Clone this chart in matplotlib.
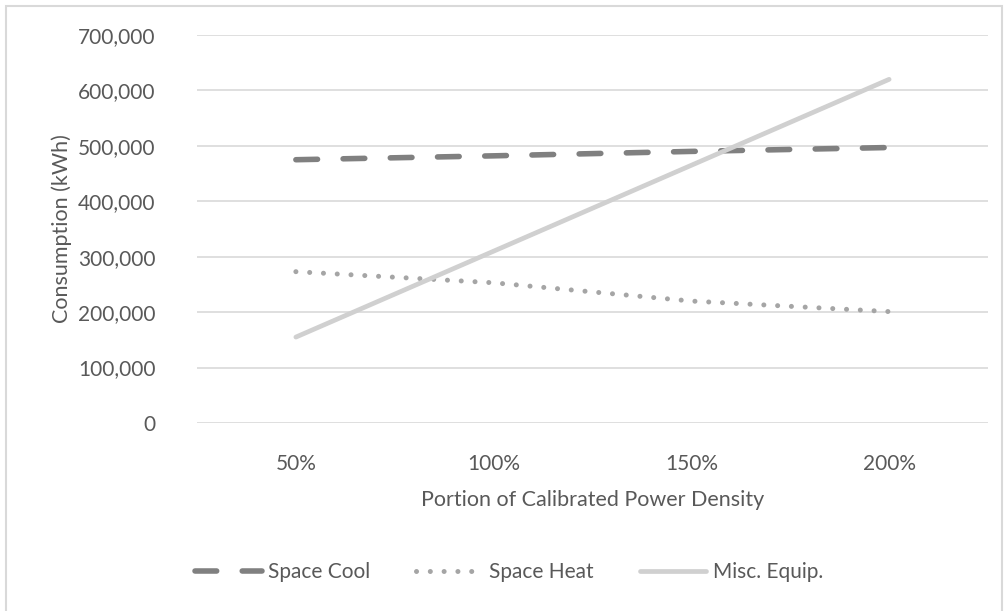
import matplotlib.pyplot as plt
from matplotlib.patches import Rectangle
from matplotlib.ticker import FuncFormatter

plt.rcParams['font.family'] = ['Lato', 'DejaVu Sans']

categories = ['50%', '100%', '150%', '200%']
space_cool = [475000, 482000, 490000, 497000]
space_heat = [273000, 253000, 220000, 201000]
misc_equip = [155000, 310000, 465000, 620000]

text_color = '#595959'

fig = plt.figure(figsize=(10.07, 6.11), dpi=100)
ax = fig.add_axes([197 / 1007, 188 / 611, 791 / 1007, 388 / 611])

x = range(len(categories))
ax.plot(x, space_cool, color='#808080', lw=4.0, linestyle=(0, (3.9, 4.6)),
        dash_capstyle='round', label='Space Cool')
ax.plot(x, space_heat, color='#a5a5a5', lw=3.6, linestyle=(0, (0.01, 2.75)),
        dash_capstyle='round', label='Space Heat')
ax.plot(x, misc_equip, color='#d0d0d0', lw=3.4, solid_capstyle='round',
        label='Misc. Equip.')

ax.set_xlim(-0.5, len(categories) - 0.5)
ax.set_ylim(0, 700000)
ax.set_yticks(range(0, 700001, 100000))
ax.yaxis.set_major_formatter(FuncFormatter(lambda v, p: f'{int(v):,}'))
ax.set_xticks(list(x))
ax.set_xticklabels(categories)
ax.grid(axis='y', color='#d9d9d9', lw=1.2)
ax.set_axisbelow(True)
for s in ax.spines.values():
    s.set_visible(False)
ax.tick_params(length=0, labelsize=15, labelcolor=text_color)
ax.tick_params(axis='y', pad=30)
ax.tick_params(axis='x', pad=22)

ax.set_xlabel('Portion of Calibrated Power Density', fontsize=15.5, color=text_color, labelpad=12)
ax.set_ylabel('Consumption (kWh)', fontsize=15.5, color=text_color, labelpad=4)

leg = fig.legend(loc='center', bbox_to_anchor=(509 / 1007, 1 - 572 / 611), ncol=3,
                 frameon=False, fontsize=15, handlelength=3.2, columnspacing=2.2,
                 handletextpad=0.3)
for t in leg.get_texts():
    t.set_color(text_color)

# light chart-area border (pixel coords)
fig.patches.append(Rectangle((6, -15), 996, 611 - 6 + 15, transform=None, fill=False,
                             edgecolor='#d9d9d9', lw=1.5))

fig.savefig('out.png', dpi=100)
